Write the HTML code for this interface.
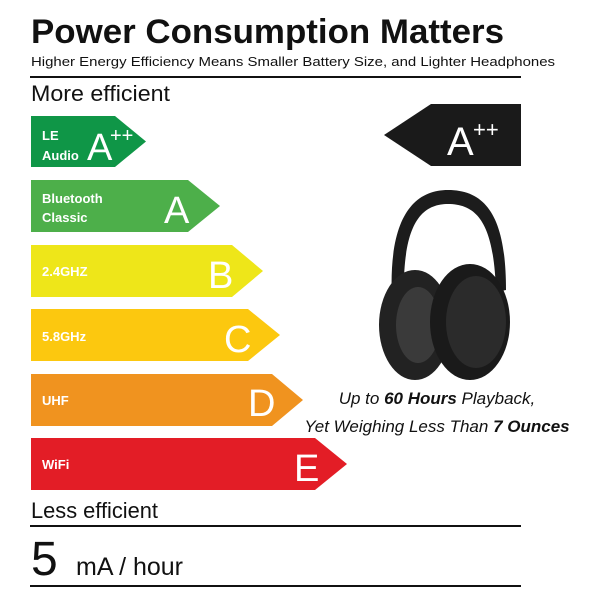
<!DOCTYPE html>
<html><head><style>html,body{margin:0;padding:0;background:#fff}</style></head><body>
<svg width="600" height="600" viewBox="0 0 600 600" xmlns="http://www.w3.org/2000/svg" font-family="Liberation Sans, sans-serif">
<rect width="600" height="600" fill="#fff"/>
<text x="31" y="43" font-size="34" font-weight="bold" fill="#111" textLength="473" lengthAdjust="spacingAndGlyphs">Power Consumption Matters</text>
<text x="31" y="66" font-size="13" fill="#111" textLength="524" lengthAdjust="spacingAndGlyphs">Higher Energy Efficiency Means Smaller Battery Size, and Lighter Headphones</text>
<rect x="30" y="76" width="491" height="2" fill="#111"/>
<text x="31" y="101" font-size="22" fill="#111" textLength="139" lengthAdjust="spacingAndGlyphs">More efficient</text>
<!-- bars -->
<polygon points="31,116 115,116 146,141.5 115,167 31,167" fill="#0f9647"/>
<polygon points="31,180 188,180 220,206 188,232 31,232" fill="#4daf4a"/>
<polygon points="31,245 232,245 263,271 232,297 31,297" fill="#eee619"/>
<polygon points="31,309 248,309 280,335 248,361 31,361" fill="#fcc80f"/>
<polygon points="31,374 272,374 303,400 272,426 31,426" fill="#f0931f"/>
<polygon points="31,438 315,438 347,464 315,490 31,490" fill="#e31d26"/>
<g fill="#fff" font-weight="bold" font-size="13">
<text x="42" y="140">LE</text><text x="42" y="160">Audio</text>
<text x="42" y="203">Bluetooth</text><text x="42" y="222">Classic</text>
<text x="42" y="276">2.4GHZ</text>
<text x="42" y="341">5.8GHz</text>
<text x="42" y="405">UHF</text>
<text x="42" y="469">WiFi</text>
</g>
<g fill="#fff" font-size="38">
<text x="87" y="160">A</text><text x="110" y="142" font-size="20">++</text>
<text x="164" y="223">A</text>
<text x="208" y="288">B</text>
<text x="224" y="352">C</text>
<text x="248" y="416">D</text>
<text x="294" y="481">E</text>
</g>
<text x="31" y="518" font-size="22" fill="#111" textLength="127" lengthAdjust="spacingAndGlyphs">Less efficient</text>
<rect x="30" y="525" width="491" height="2" fill="#111"/>
<text x="31" y="575" font-size="48" fill="#111">5</text>
<text x="76" y="575" font-size="25" fill="#111">mA / hour</text>
<rect x="30" y="585" width="491" height="2" fill="#111"/>
<!-- marker -->
<polygon points="384,135 431,104 521,104 521,166 431,166" fill="#1a1a1a"/>
<text x="447" y="155" font-size="40" fill="#fff">A</text><text x="473" y="137" font-size="22" fill="#fff">++</text>
<!-- headphones -->
<path d="M392,300 C388,220 412,190 448,190 C488,190 506,220 506,290 L496,292 C494,228 480,204 448,204 C420,204 402,226 404,300 Z" fill="#1c1c1c"/>
<ellipse cx="415" cy="325" rx="36" ry="55" fill="#222"/>
<ellipse cx="418" cy="325" rx="22" ry="38" fill="#3a3a3a"/>
<ellipse cx="470" cy="322" rx="40" ry="58" fill="#1a1a1a"/>
<ellipse cx="476" cy="322" rx="30" ry="46" fill="#2b2b2b"/>
<g font-size="17" font-style="italic" fill="#111" text-anchor="middle">
<text x="437" y="404">Up to <tspan font-weight="bold">60 Hours</tspan> Playback,</text>
<text x="437" y="432">Yet Weighing Less Than <tspan font-weight="bold">7 Ounces</tspan></text>
</g>
</svg>
</body></html>
